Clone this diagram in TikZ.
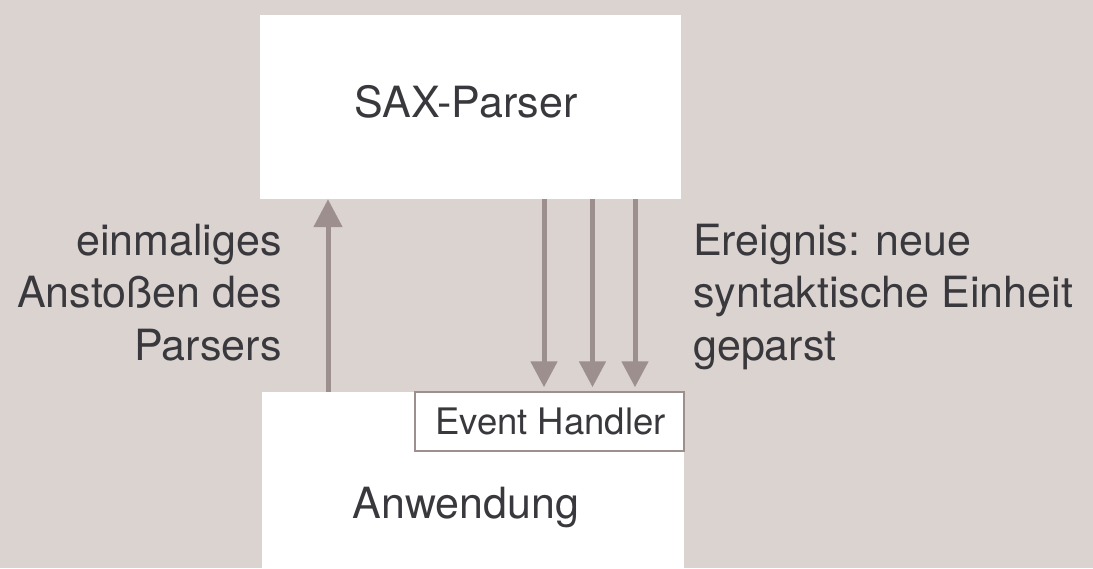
\documentclass[tikz,border=0pt]{standalone}
\usepackage{fontspec}
\setmainfont{TeX Gyre Heros}
\usetikzlibrary{arrows.meta,calc}
\definecolor{bgc}{HTML}{DBD3D0}
\definecolor{arrc}{HTML}{9D8F8D}
\definecolor{txtc}{HTML}{38383D}
\tikzset{
  whitebox/.style={draw=none, fill=white, inner sep=0pt},
  ehbox/.style={draw=arrc, line width=1.5pt, fill=white, inner sep=0pt},
  txt/.style={text=txtc, inner sep=0pt, font=\fontsize{43}{52.5}\selectfont},
  smalltxt/.style={text=txtc, inner sep=0pt, font=\fontsize{36.5}{44}\selectfont},
  uparr/.style={draw=arrc, line width=5pt, -{Triangle[width=28pt,length=28pt]}},
  downarr/.style={draw=arrc, line width=5pt, -{Triangle[width=26pt,length=26pt]}, shorten >=4pt},
}
\begin{document}
\begin{tikzpicture}[x=1pt,y=-1pt]
  \fill[bgc] (0,0) rectangle (1093,568);
  \useasboundingbox (0,0) rectangle (1093,568);
  % boxes
  \node[whitebox, minimum width=421pt, minimum height=184pt] (sax) at (470.5,107) {};
  \node[whitebox, minimum width=422pt, minimum height=190pt] (anw) at (473,487) {};
  \node[ehbox, minimum width=269pt, minimum height=59pt] (eh) at (549.5,421.5) {};
  % texts
  \node[txt, anchor=base] (saxt) at (466,117) {SAX-Parser};
  \node[txt, anchor=base] (anwt) at (466,518) {Anwendung};
  \node[smalltxt, anchor=base] (eht) at (550.5,434) {Event Handler};
  \node[txt, align=right, anchor=base east] (lt) at (282,360) {einmaliges\\Anstoßen des\\Parsers};
  \node[txt, align=left, anchor=base west] (rt) at (693,360) {Ereignis: neue\\syntaktische Einheit\\geparst};
  % arrow positions
  \coordinate (cu) at (328,0);
  \coordinate (d1) at (544,0);
  \coordinate (d2) at (592.5,0);
  \coordinate (d3) at (635,0);
  % arrows
  \draw[uparr] (anw.north -| cu) -- (sax.south -| cu);
  \draw[downarr] (sax.south -| d1) -- (eh.north -| d1);
  \draw[downarr] (sax.south -| d2) -- (eh.north -| d2);
  \draw[downarr] (sax.south -| d3) -- (eh.north -| d3);
\end{tikzpicture}
\end{document}
